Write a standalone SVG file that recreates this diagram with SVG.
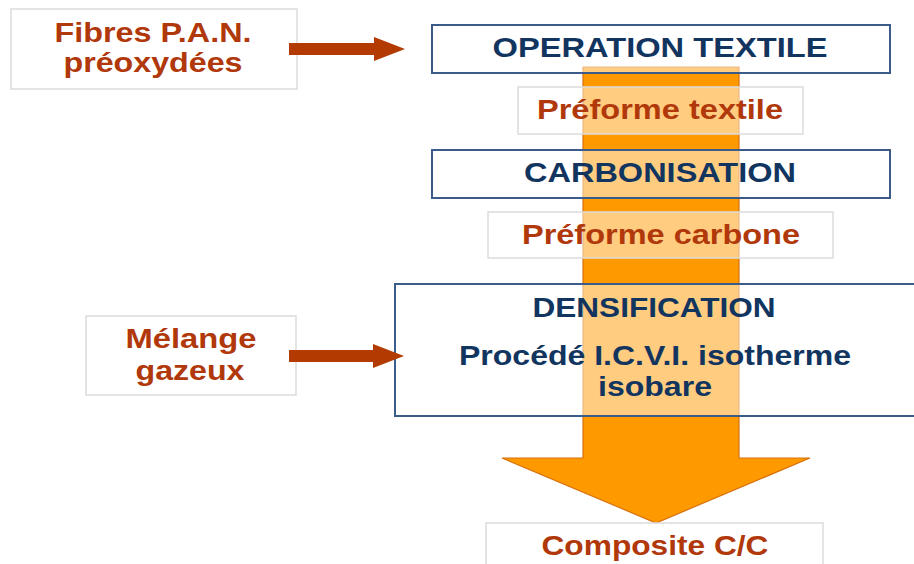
<svg xmlns="http://www.w3.org/2000/svg" width="914" height="564" viewBox="0 0 914 564">
<defs>
<style>
text{font-family:"Liberation Sans",Arial,sans-serif;font-weight:bold;font-size:28px;text-anchor:middle}
.navy{fill:#12355f}
.rust{fill:#b0380a}
.step{fill:#ffffff;fill-opacity:0.5;stroke:#3b5b8a;stroke-width:2}
.item{fill:#ffffff;fill-opacity:0.5;stroke:#dcdcdc;stroke-width:1.5}
.conn{stroke:#b33a00;stroke-width:12;fill:none}
</style>
<marker id="head" markerUnits="userSpaceOnUse" markerWidth="32" markerHeight="24" refX="0" refY="12" orient="auto">
<path d="M0,0 L31,12 L0,24 z" fill="#b33a00"/>
</marker>
</defs>
<rect width="914" height="564" fill="#ffffff"/>
<g id="flow-arrow">
<polygon points="583,67 739,67 739,458 810,458 656,523 502,458 583,458" fill="#ff9900" stroke="#d8700a" stroke-width="1.2"/>
</g>
<g id="fibres">
<rect class="item" x="11" y="9" width="286" height="80"/>
<text class="rust" x="153" y="42" textLength="197" lengthAdjust="spacingAndGlyphs">Fibres P.A.N.</text>
<text class="rust" x="153" y="72" textLength="179" lengthAdjust="spacingAndGlyphs">préoxydées</text>
</g>
<g id="operation-textile">
<rect class="step" x="432" y="25" width="458" height="48"/>
<text class="navy" x="660" y="57" textLength="335" lengthAdjust="spacingAndGlyphs">OPERATION TEXTILE</text>
</g>
<g id="preforme-textile">
<rect class="item" x="518" y="87" width="285" height="47"/>
<text class="rust" x="660" y="119" textLength="246" lengthAdjust="spacingAndGlyphs">Préforme textile</text>
</g>
<g id="carbonisation">
<rect class="step" x="432" y="150" width="458" height="48"/>
<text class="navy" x="660" y="182" textLength="272" lengthAdjust="spacingAndGlyphs">CARBONISATION</text>
</g>
<g id="preforme-carbone">
<rect class="item" x="488" y="212" width="345" height="46"/>
<text class="rust" x="661" y="244" textLength="278" lengthAdjust="spacingAndGlyphs">Préforme carbone</text>
</g>
<g id="densification">
<rect class="step" x="395" y="284" width="530" height="132"/>
<text class="navy" x="654" y="317" textLength="243" lengthAdjust="spacingAndGlyphs">DENSIFICATION</text>
<text class="navy" x="655" y="365" textLength="392" lengthAdjust="spacingAndGlyphs">Procédé I.C.V.I. isotherme</text>
<text class="navy" x="655" y="396" textLength="114" lengthAdjust="spacingAndGlyphs">isobare</text>
</g>
<g id="melange">
<rect class="item" x="86" y="316" width="210" height="79"/>
<text class="rust" x="191" y="348" textLength="131" lengthAdjust="spacingAndGlyphs">Mélange</text>
<text class="rust" x="190" y="380" textLength="109" lengthAdjust="spacingAndGlyphs">gazeux</text>
</g>
<g id="composite">
<rect class="item" x="486" y="523" width="337" height="50"/>
<text class="rust" x="655" y="555" textLength="227" lengthAdjust="spacingAndGlyphs">Composite C/C</text>
</g>
<g id="connectors">
<line class="conn" x1="289" y1="49" x2="374" y2="49" marker-end="url(#head)"/>
<line class="conn" x1="289" y1="356" x2="373" y2="356" marker-end="url(#head)"/>
</g>
</svg>
